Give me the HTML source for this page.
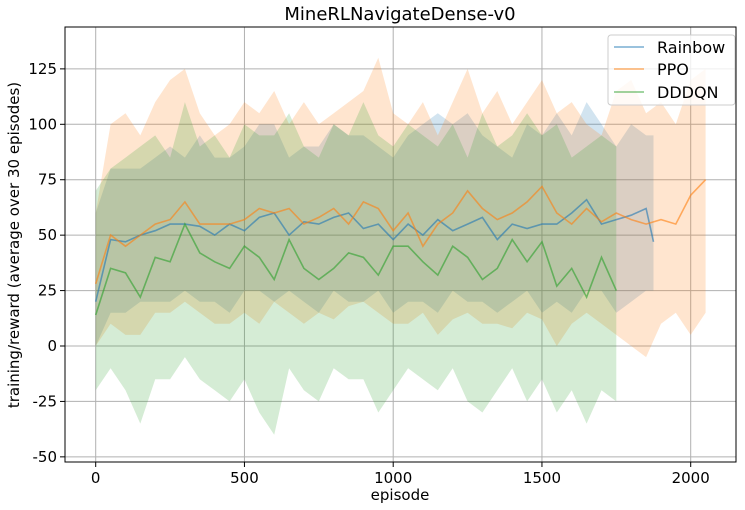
<!DOCTYPE html>
<html><head><meta charset="utf-8"><style>
body{margin:0;background:#fff;}
svg{display:block;font-family:"DejaVu Sans","Liberation Sans",sans-serif;}
</style></head><body>
<svg id="chart" width="745" height="510">
<g id="grid"></g>
<g id="bands"></g>
<g id="lines"></g>
<g id="axes"></g>
<text x="400" y="20" text-anchor="middle" font-size="18">MineRLNavigateDense-v0</text>
<text x="400" y="500" text-anchor="middle" font-size="15">episode</text>
<text transform="translate(19,245) rotate(-90)" text-anchor="middle" font-size="15">training/reward (average over 30 episodes)</text>
<g>
<rect x="608" y="35" width="127" height="70" rx="3" fill="#fff" fill-opacity="0.8" stroke="#ccc"/>
<g><line x1="614" y1="47" x2="644" y2="47" stroke="#1f77b4" stroke-opacity="0.45" stroke-width="2"/><text x="657" y="53" font-size="16">Rainbow</text></g>
<g><line x1="614" y1="69" x2="644" y2="69" stroke="#ff7f0e" stroke-opacity="0.45" stroke-width="2"/><text x="657" y="75" font-size="16">PPO</text></g>
<g><line x1="614" y1="92" x2="644" y2="92" stroke="#2ca02c" stroke-opacity="0.45" stroke-width="2"/><text x="657" y="98" font-size="16">DDDQN</text></g>
</g>
</svg>
<script>
const xTicks=[0,500,1000,1500,2000];
const yTicks=[-50,-25,0,25,50,75,100,125];
const rainbowEp=[0,50,100,150,200,250,300,350,400,450,500,550,600,650,700,750,800,850,900,950,1000,1050,1100,1150,1200,1250,1300,1350,1400,1450,1500,1550,1600,1650,1700,1750,1800,1850,1875];
const rainbowMean=[20,48,47,50,52,55,55,54,50,55,52,58,60,50,56,55,58,60,53,55,48,55,50,57,52,55,58,48,55,53,55,55,60,66,55,57,59,62,47];
const rainbowUpper=[60,80,80,80,85,90,85,95,85,85,90,100,100,85,90,90,100,95,95,90,85,95,100,105,100,105,95,90,85,100,95,105,95,110,100,90,100,95,95];
const rainbowLower=[0,15,15,20,20,20,25,20,20,15,25,25,20,25,20,15,25,20,20,25,15,20,20,15,25,20,20,15,20,25,15,20,15,25,25,15,20,25,25];
const ppoEp=[0,50,100,150,200,250,300,350,400,450,500,550,600,650,700,750,800,850,900,950,1000,1050,1100,1150,1200,1250,1300,1350,1400,1450,1500,1550,1600,1650,1700,1750,1800,1850,1900,1950,2000,2050];
const ppoMean=[28,50,45,50,55,57,65,55,55,55,57,62,60,62,55,58,62,55,65,62,52,60,45,55,60,70,62,57,60,65,72,60,55,62,56,60,57,55,57,55,68,75];
const ppoUpper=[60,100,105,95,110,120,125,105,95,100,110,105,115,100,110,100,105,110,115,130,105,100,110,95,110,125,105,115,100,110,120,105,110,100,95,115,120,105,110,100,120,125];
const ppoLower=[0,10,5,5,15,15,20,15,10,10,15,10,20,15,10,15,12,18,20,15,10,10,15,5,12,15,10,10,8,15,12,0,10,15,10,5,0,-5,10,15,5,15];
const dddqnEp=[0,50,100,150,200,250,300,350,400,450,500,550,600,650,700,750,800,850,900,950,1000,1050,1100,1150,1200,1250,1300,1350,1400,1450,1500,1550,1600,1650,1700,1750];
const dddqnMean=[14,35,33,22,40,38,55,42,38,35,45,40,30,48,35,30,35,42,40,32,45,45,38,32,45,40,30,35,48,38,47,27,35,22,40,25];
const dddqnUpper=[70,80,85,90,95,85,110,90,95,85,100,95,95,105,90,85,100,95,110,95,90,100,95,90,100,85,105,90,95,105,95,100,85,90,95,90];
const dddqnLower=[-20,-10,-20,-35,-15,-15,-5,-15,-20,-25,-15,-30,-40,-10,-20,-25,-10,-15,-15,-30,-20,-10,-15,-20,-10,-25,-30,-20,-10,-25,-15,-30,-20,-35,-20,-25];

const L=65,R=736,T=27,B=462;
function xs(e){return 95.7+e*0.2975;}
function ys(v){return 346-v*2.217;}
const NS='http://www.w3.org/2000/svg';
function mk(tag,attrs,parent){const el=document.createElementNS(NS,tag);for(const k in attrs)el.setAttribute(k,attrs[k]);parent.appendChild(el);return el;}
const grid=document.getElementById('grid'),axes=document.getElementById('axes');
xTicks.forEach(t=>{
  const g=mk('line',{x1:xs(t),x2:xs(t),y1:T,y2:B,stroke:'#b0b0b0','stroke-width':1},grid);
  
  
  mk('line',{x1:xs(t),x2:xs(t),y1:B,y2:B+5,stroke:'#000'},axes);
  const tx=mk('text',{x:xs(t),y:B+21,'text-anchor':'middle','font-size':15},axes);
  tx.textContent=t;
  
  
});
yTicks.forEach(t=>{
  const g=mk('line',{x1:L,x2:R,y1:ys(t),y2:ys(t),stroke:'#b0b0b0','stroke-width':1},grid);
  
  
  mk('line',{x1:L-5,x2:L,y1:ys(t),y2:ys(t),stroke:'#000'},axes);
  const tx=mk('text',{x:L-8,y:ys(t)+5,'text-anchor':'end','font-size':15},axes);
  tx.textContent=t;
  
  
});
const frame=mk('rect',{x:L,y:T,width:R-L,height:B-T,fill:'none',stroke:'#000','stroke-width':1},axes);


const series=[
 {name:'rainbow',ep:rainbowEp,m:rainbowMean,u:rainbowUpper,l:rainbowLower,c:'#1f77b4'},
 {name:'ppo',ep:ppoEp,m:ppoMean,u:ppoUpper,l:ppoLower,c:'#ff7f0e'},
 {name:'dddqn',ep:dddqnEp,m:dddqnMean,u:dddqnUpper,l:dddqnLower,c:'#2ca02c'}];
const bands=document.getElementById('bands'),lines=document.getElementById('lines');
series.forEach(s=>{
  let d='';
  s.ep.forEach((e,i)=>{d+=(i?'L':'M')+xs(e).toFixed(1)+','+ys(s.u[i]).toFixed(1);});
  for(let i=s.ep.length-1;i>=0;i--)d+='L'+xs(s.ep[i]).toFixed(1)+','+ys(s.l[i]).toFixed(1);
  const p=mk('path',{d:d+'Z',fill:s.c,'fill-opacity':0.2},bands);
  
  
  let d2='';
  s.ep.forEach((e,i)=>{d2+=(i?'L':'M')+xs(e).toFixed(1)+','+ys(s.m[i]).toFixed(1);});
  const ln=mk('path',{d:d2,fill:'none',stroke:s.c,'stroke-opacity':0.6,'stroke-width':1.6},lines);
  
  
});
</script>
</body></html>
